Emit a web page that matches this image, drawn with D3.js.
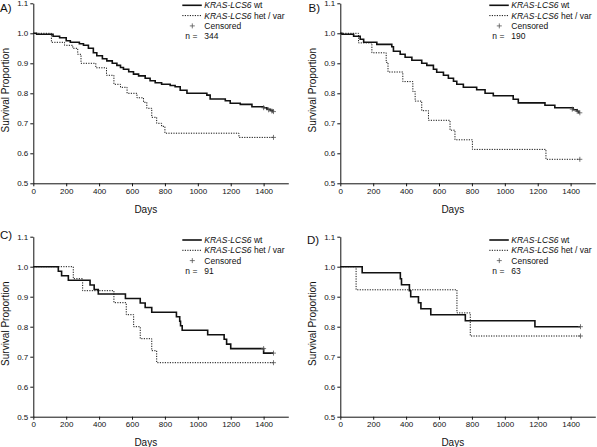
<!DOCTYPE html>
<html><head><meta charset="utf-8">
<script src="https://cdn.jsdelivr.net/npm/d3@7"></script>
<style>
html,body{margin:0;padding:0;background:#fff;}
svg{display:block;font-family:"Liberation Sans",Arial,sans-serif;}
</style></head>
<body><svg id="c" width="597" height="447"></svg>
<script>
// ---------- data ----------
const panelLabels = ["A)", "B)", "C)", "D)"];
const sampleSizes = [344, 190, 91, 63];
const xTicks = [0, 200, 400, 600, 800, 1000, 1200, 1400];
const yTicks = [0.5, 0.6, 0.7, 0.8, 0.9, 1.0, 1.1];
const legendLabels = ["wt", "het / var"];
const geneLabel = "KRAS-LCS6";

// [day, survival] step points
const aWt = [[0,1],[20,0.997],[120,0.99],[160,0.985],[200,0.975],[225,0.97],[280,0.965],[305,0.96],[335,0.95],[365,0.935],[386,0.925],[420,0.915],[447,0.908],[480,0.9],[508,0.893],[530,0.886],[548,0.88],[580,0.872],[609,0.864],[640,0.858],[680,0.85],[710,0.842],[741,0.835],[780,0.83],[832,0.826],[862,0.822],[893,0.81],[934,0.8],[1055,0.794],[1075,0.781],[1167,0.775],[1197,0.767],[1258,0.763],[1329,0.755],[1400,0.752],[1420,0.747],[1440,0.743],[1455,0.739],[1462,0.739]];
const aHet = [[0,1],[110,0.97],[190,0.96],[240,0.95],[270,0.93],[290,0.9],[380,0.885],[445,0.86],[490,0.83],[530,0.82],[570,0.8],[630,0.785],[670,0.77],[690,0.75],[720,0.72],[750,0.7],[780,0.69],[800,0.667],[1250,0.653],[1460,0.653]];
const bWt = [[0,1],[10,0.997],[81,0.99],[121,0.98],[142,0.97],[222,0.963],[313,0.955],[323,0.94],[364,0.93],[394,0.92],[435,0.91],[495,0.9],[526,0.893],[566,0.88],[586,0.87],[627,0.86],[657,0.85],[688,0.84],[708,0.83],[748,0.82],[829,0.812],[880,0.8],[930,0.792],[1051,0.78],[1082,0.768],[1244,0.76],[1304,0.752],[1415,0.745],[1440,0.74],[1450,0.735],[1456,0.735]];
const bHet = [[0,1],[111,0.968],[192,0.935],[279,0.903],[290,0.871],[380,0.839],[441,0.806],[455,0.774],[495,0.742],[536,0.71],[667,0.677],[697,0.645],[803,0.613],[1250,0.58],[1456,0.58]];
const cWt = [[0,1],[152,0.985],[172,0.97],[213,0.955],[345,0.939],[370,0.924],[395,0.909],[560,0.894],[650,0.879],[680,0.864],[720,0.848],[870,0.833],[890,0.818],[895,0.803],[905,0.788],[1060,0.773],[1160,0.758],[1175,0.742],[1200,0.727],[1400,0.712],[1460,0.712]];
const cHet = [[0,1],[243,0.96],[300,0.92],[490,0.88],[565,0.84],[610,0.8],[650,0.76],[720,0.72],[750,0.68],[1460,0.68]];
const dWt = [[0,1],[133,0.98],[365,0.96],[372,0.94],[420,0.92],[428,0.9],[475,0.88],[490,0.86],[550,0.84],[760,0.82],[1183,0.8],[1460,0.8]];
const dHet = [[0,1],[96,0.923],[709,0.846],[790,0.769],[1460,0.769]];

// censored observations [day, survival]
const aWtCens = [[1400,0.752],[1430,0.745],[1450,0.741],[1460,0.739]];
const aHetCens = [[1460,0.653]];
const bWtCens = [[1410,0.747],[1440,0.74],[1456,0.735]];
const bHetCens = [[1456,0.58]];
const cWtCens = [[1400,0.727],[1460,0.712]];
const cHetCens = [[1460,0.68]];
const dWtCens = [[1460,0.8]];
const dHetCens = [[1460,0.769]];

const series = [
  {wt: aWt, het: aHet, wtC: aWtCens, hetC: aHetCens},
  {wt: bWt, het: bHet, wtC: bWtCens, hetC: bHetCens},
  {wt: cWt, het: cHet, wtC: cWtCens, hetC: cHetCens},
  {wt: dWt, het: dHet, wtC: dWtCens, hetC: dHetCens}
];

// ---------- layout ----------
const layout = [
  {x0: 33.3, top: 3.3, lblX: 0, lblY: 12, legDy: 2},
  {x0: 340.3, top: 3.3, lblX: 308.5, lblY: 12, legDy: 2},
  {x0: 33.3, top: 236.7, lblX: 0, lblY: 238.5, legDy: 3.3},
  {x0: 340.3, top: 236.7, lblX: 307, lblY: 244, legDy: 3.3}
];
const W = 255, H = 180;
const svg = d3.select("#c");
const ink = "#111";

layout.forEach((L, i) => {
  const x = d3.scaleLinear().domain([0, 1550]).range([L.x0, L.x0 + W]);
  const y = d3.scaleLinear().domain([0.5, 1.1]).range([L.top + H, L.top]);
  const g = svg.append("g");

  // axes
  const xa = g.append("g").attr("transform", `translate(0,${L.top + H})`)
    .call(d3.axisBottom(x).tickValues(xTicks).tickSize(3).tickSizeOuter(0).tickPadding(2).tickFormat(d3.format("d")));
  const ya = g.append("g").attr("transform", `translate(${L.x0},0)`)
    .call(d3.axisLeft(y).tickValues(yTicks).tickSize(3).tickSizeOuter(0).tickPadding(2).tickFormat(d3.format(".1f")));
  [xa, ya].forEach(a => {
    a.selectAll("path,line").attr("stroke", ink).attr("stroke-width", 1);
    a.selectAll("text").attr("fill", ink).style("font-size", "8px").style("font-family", '"Liberation Sans",Arial,sans-serif');
  });

  g.append("text").attr("x", L.x0 + 112.5).attr("y", L.top + H + 29.5)
    .attr("text-anchor", "middle").style("font-size", "10px").attr("fill", ink).text("Days");
  g.append("text").attr("transform", `translate(${L.x0 - 24.5},${L.top + H / 2 - 3}) rotate(-90)`)
    .attr("text-anchor", "middle").style("font-size", "10px").attr("fill", ink).text("Survival Proportion");
  g.append("text").attr("x", L.lblX).attr("y", L.lblY).style("font-size", "11.5px").attr("fill", ink).text(panelLabels[i]);

  const line = d3.line().x(d => x(d[0])).y(d => y(d[1])).curve(d3.curveStepAfter);
  const S = series[i];
  g.append("path").attr("d", line(S.het)).attr("fill", "none").attr("stroke", ink)
    .attr("stroke-width", 1).attr("stroke-dasharray", "1.2,1.3");
  g.append("path").attr("d", line(S.wt)).attr("fill", "none").attr("stroke", ink)
    .attr("stroke-width", 1.6);

  const cross = d => `M${x(d[0]) - 2.5},${y(d[1])}h5M${x(d[0])},${y(d[1]) - 2.5}v5`;
  g.selectAll(null).data(S.wtC.concat(S.hetC)).enter().append("path")
    .attr("d", cross).attr("stroke", "#555").attr("stroke-width", 0.8).attr("fill", "none");

  // legend
  const lx = L.x0 + 149, tx = L.x0 + 171, ly = L.top + L.legDy, dy = 10.3;
  const leg = g.append("g").style("font-size", "8.5px").attr("fill", ink);
  leg.append("line").attr("x1", lx).attr("x2", lx + 19.5).attr("y1", ly).attr("y2", ly)
    .attr("stroke", ink).attr("stroke-width", 1.6);
  leg.append("line").attr("x1", lx).attr("x2", lx + 19.5).attr("y1", ly + dy).attr("y2", ly + dy)
    .attr("stroke", ink).attr("stroke-width", 1).attr("stroke-dasharray", "1.2,1.3");
  leg.append("path").attr("d", `M${lx + 7.5},${ly + 2 * dy}h5M${lx + 10},${ly + 2 * dy - 2.5}v5`)
    .attr("stroke", "#555").attr("stroke-width", 0.8);
  [0, 1].forEach(k => {
    const t = leg.append("text").attr("x", tx).attr("y", ly + k * dy + 3);
    t.append("tspan").style("font-style", "italic").text(geneLabel);
    t.append("tspan").text(" " + legendLabels[k]);
  });
  leg.append("text").attr("x", tx).attr("y", ly + 2 * dy + 3).text("Censored");
  leg.append("text").attr("x", lx + 3).attr("y", ly + 3 * dy + 3).text("n =");
  leg.append("text").attr("x", tx).attr("y", ly + 3 * dy + 3).text(sampleSizes[i]);
});
</script></body></html>
